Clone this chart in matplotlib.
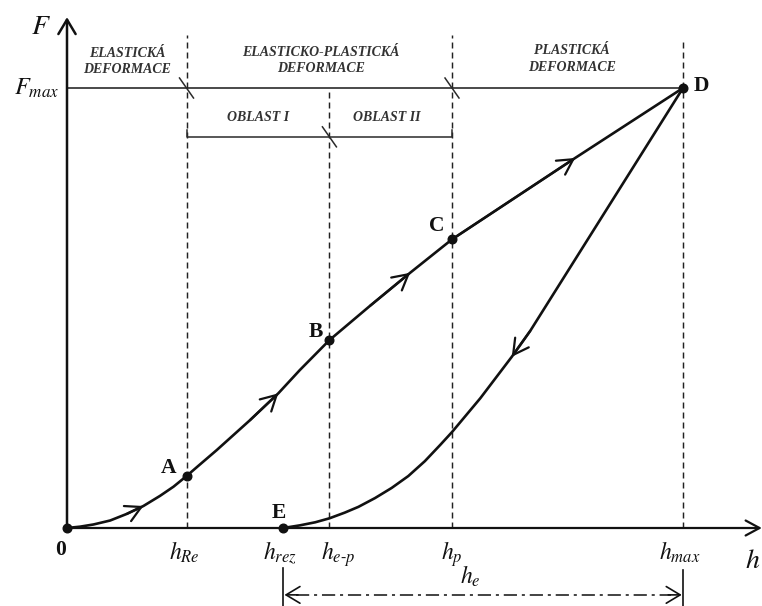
import matplotlib
matplotlib.use("Agg")
import matplotlib.pyplot as plt

plt.rcParams["mathtext.fontset"] = "stix"
plt.rcParams["lines.scale_dashes"] = False

# Characteristic depths (normalised to h_max) and forces (normalised to F_max)
h_Re, h_rez, h_ep, h_p, h_max = 0.194, 0.351, 0.426, 0.625, 1.0
F_A, F_B, F_C, F_max = 0.118, 0.427, 0.656, 1.0
F_oblast = 0.889  # level of the OBLAST I / OBLAST II bracket

# Loading branch O -> A -> B -> C -> D
h_load = [0.0, 0.021, 0.043, 0.070, 0.097, 0.124, 0.151, 0.173, 0.194, 0.213,
          0.243, 0.297, 0.343, 0.378, 0.426, 0.492, 0.557, 0.625, 0.825, 1.0]
F_load = [0.0, 0.003, 0.008, 0.017, 0.032, 0.050, 0.073, 0.094, 0.118, 0.141,
          0.177, 0.245, 0.306, 0.359, 0.427, 0.505, 0.580, 0.656, 0.841, 1.0]
load_arrows = [5, 12, 16, 18]

# Unloading branch D -> E
h_unload = [1.0, 0.752, 0.722, 0.671, 0.625, 0.606, 0.581, 0.554, 0.527, 0.500,
            0.473, 0.451, 0.426, 0.403, 0.378, 0.351]
F_unload = [1.0, 0.448, 0.389, 0.295, 0.218, 0.189, 0.152, 0.118, 0.091, 0.068,
            0.048, 0.035, 0.022, 0.013, 0.006, 0.0]
unload_arrows = [2]

# Labelled points: name, h, F, label offset (points)
pt_names = ["0", "A", "B", "C", "D", "E"]
pt_h = [0.0, h_Re, h_ep, h_p, h_max, h_rez]
pt_F = [0.0, F_A, F_B, F_C, F_max, 0.0]
pt_off = [(-4.5, -15.5), (-12.7, 6.1), (-9.6, 6.1), (-10.7, 9.6), (13.0, 1.1), (-3.1, 10.7)]

# Depth labels under the axis
tick_h = [h_Re, h_rez, h_ep, h_p, h_max]
tick_lab = [r"$h_{Re}$", r"$h_{rez}$", r"$h_{e\text{-}p}$", r"$h_{p}$", r"$h_{max}$"]
tick_dx = [-0.003, -0.005, 0.014, 0.0, -0.006]

fig = plt.figure(figsize=(7.62, 6.06), dpi=100)
ax = fig.add_axes([0, 0, 1, 1])
ax.set_xlim(-67 / 616, 695 / 616)
ax.set_ylim(-78 / 440, 528 / 440)
ax.axis("off")

ink = "#111111"
head = "->,head_length=0.5,head_width=0.27"

# Axes with open arrowheads
ax.annotate("", xy=(1.128, 0), xytext=(0, 0),
            arrowprops=dict(arrowstyle=head, lw=1.6, color=ink,
                            shrinkA=0, shrinkB=0, mutation_scale=20))
ax.annotate("", xy=(0, 1.161), xytext=(0, 0),
            arrowprops=dict(arrowstyle="->,head_length=0.52,head_width=0.31",
                            lw=1.8, color=ink, shrinkA=0, shrinkB=0, mutation_scale=20))

# F_max level
ax.plot([0, h_max], [F_max, F_max], color="#2a2a2a", lw=1.2, solid_capstyle="butt")

# Vertical dashed guides
dash = (0, (4.3, 2.9))
for h, top in [(h_Re, 1.1205), (h_ep, F_max), (h_p, 1.1205), (h_max, 1.1045)]:
    ax.plot([h, h], [0, top], color="#222222", lw=1.05, linestyle=dash)

# OBLAST bracket
ax.plot([h_Re, h_Re, h_p, h_p], [F_oblast + 0.016, F_oblast, F_oblast, F_oblast + 0.016],
        color="#2a2a2a", lw=1.1)

# Slash marks at region boundaries
sx, sy = 7 / 616, 10 / 440
for h, F in [(h_Re, F_max), (h_p, F_max), (h_ep, F_oblast)]:
    ax.plot([h - sx, h + sx], [F + sy, F - sy], color="#2a2a2a", lw=1.1)

# Region captions
cap = dict(family="Liberation Serif", fontweight="bold", fontstyle="italic",
           fontsize=10, color="#333333", ha="center", va="center", linespacing=1.33)
ax.text(0.098, 1.061, "ELASTICKÁ\nDEFORMACE", **cap)
ax.text(0.412, 1.062, "ELASTICKO-PLASTICKÁ\nDEFORMACE", **cap)
ax.text(0.820, 1.066, "PLASTICKÁ\nDEFORMACE", **cap)
ax.text(0.310, 0.934, "OBLAST I", **cap)
ax.text(0.519, 0.934, "OBLAST II", **cap)

# Load-depth curves
ax.plot(h_load, F_load, color=ink, lw=1.9, solid_joinstyle="round")
ax.plot(h_unload, F_unload, color=ink, lw=1.9, solid_joinstyle="round")

# Direction arrows along the curves
for hs, Fs, idx in [(h_load, F_load, load_arrows), (h_unload, F_unload, unload_arrows)]:
    for i in idx:
        ax.annotate("", xy=(hs[i], Fs[i]), xytext=(hs[i - 1], Fs[i - 1]),
                    arrowprops=dict(arrowstyle="->,head_length=0.55,head_width=0.3",
                                    lw=1.6, color=ink, shrinkA=0, shrinkB=0,
                                    mutation_scale=20))

# Points and their labels
ax.plot(pt_h, pt_F, "o", color=ink, ms=6.2, zorder=5)
for name, h, F, off in zip(pt_names, pt_h, pt_F, pt_off):
    ax.annotate(name, xy=(h, F), xytext=off, textcoords="offset points",
                ha="center", va="center", family="Liberation Serif",
                fontweight="bold", fontsize=15.5, color=ink)

# Axis titles
ax.text(-0.043, 1.14, r"$F$", fontsize=20, ha="center", va="center", color=ink)
ax.text(-0.012, 1.0, r"$F_{max}$", fontsize=17.5, ha="right", va="center", color=ink)
ax.text(1.100, -0.091, r"$h$", fontsize=20, ha="left", va="baseline", color=ink)

# Depth labels
for h, lab, dx in zip(tick_h, tick_lab, tick_dx):
    ax.text(h + dx, -0.073, lab, fontsize=17, ha="center", va="baseline", color=ink)

# Elastic recovery dimension h_e
y_dim = -0.152
ax.plot([h_rez, h_rez], [-0.091, -0.18], color=ink, lw=1.2)
ax.plot([h_max, h_max], [-0.095, -0.18], color=ink, lw=1.2)
ax.plot([h_rez + 0.02, h_max - 0.02], [y_dim, y_dim], color="#222222", lw=1.2,
        linestyle=(0, (9.5, 3.5, 2.2, 3.5)))
for a, b in [(h_rez + 0.002, h_rez + 0.024), (h_max - 0.002, h_max - 0.024)]:
    ax.annotate("", xy=(a, y_dim), xytext=(b, y_dim),
                arrowprops=dict(arrowstyle="->,head_length=0.5,head_width=0.3",
                                lw=1.2, color=ink, shrinkA=0, shrinkB=0,
                                mutation_scale=20))
ax.text(0.654, -0.127, r"$h_{e}$", fontsize=17, ha="center", va="baseline", color=ink)

fig.savefig("out.png", dpi=100)
